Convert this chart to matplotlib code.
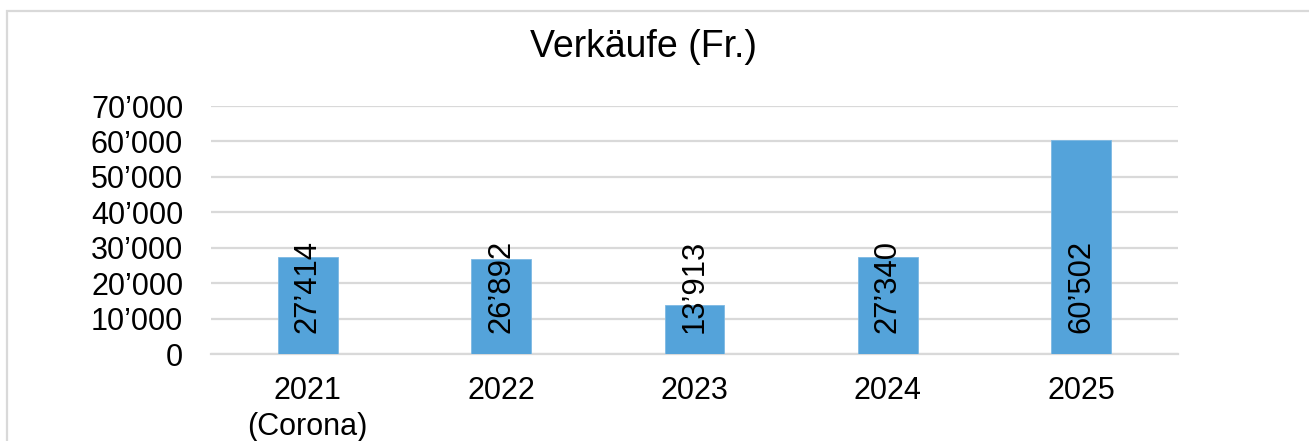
"""Bar chart of yearly sales (Fr.) with rotated value labels."""

import matplotlib

matplotlib.use("Agg")
import matplotlib.pyplot as plt
from matplotlib.patches import Rectangle
from matplotlib.ticker import FuncFormatter, MultipleLocator

years = ["2021\n(Corona)", "2022", "2023", "2024", "2025"]
sales = [27414, 26892, 13913, 27340, 60502]

_BAR_COLOUR = "#54A3DA"
_GRID_COLOUR = "#D9D9D9"
_TEXT_COLOUR = "#000000"
_FONT = "Liberation Sans"
_LABEL_BASE = 5900  # data labels all start at the same height


def swiss(v):
    # thousands separator as used in Switzerland: 27’414
    return f"{int(round(v)):,}".replace(",", "\u2019")


plt.rcParams["font.family"] = [_FONT, "DejaVu Sans"]

fig = plt.figure(figsize=(13.09, 4.41), dpi=100)
fig.patch.set_facecolor("white")

# chart frame (runs off the right and bottom edges)
fig.patches.append(Rectangle((7 / 1309, -0.05), 1.1, 1 - 11 / 441 + 0.05,
                             transform=fig.transFigure, fill=False,
                             edgecolor=_GRID_COLOUR, linewidth=1.6))

ax = fig.add_axes([211 / 1309, 1 - 354 / 441, (1178 - 211) / 1309, (354 - 106) / 441])
x = range(len(years))
ax.bar(x, sales, width=0.31, color=_BAR_COLOUR, edgecolor="#7DB9E3",
       linewidth=0.6, zorder=3)

for xi, v in zip(x, sales):
    ax.text(xi, _LABEL_BASE, swiss(v), rotation=90, ha="center", va="bottom",
            fontsize=22.3, color=_TEXT_COLOUR, zorder=4)

ax.set_xlim(-0.5, len(years) - 0.5)
ax.set_ylim(0, 70000)
ax.yaxis.set_major_locator(MultipleLocator(10000))
ax.yaxis.set_major_formatter(FuncFormatter(lambda v, _: swiss(v)))
ax.set_xticks(list(x))
ax.set_xticklabels(years, linespacing=1.25)
ax.tick_params(axis="both", length=0, labelsize=22, colors=_TEXT_COLOUR)
ax.tick_params(axis="y", pad=20)
ax.tick_params(axis="x", pad=16)
ax.grid(True, axis="y", color=_GRID_COLOUR, linewidth=1.6, zorder=0)
for side in ("top", "right", "left"):
    ax.spines[side].set_visible(False)
ax.spines["bottom"].set_color(_GRID_COLOUR)
ax.spines["bottom"].set_linewidth(1.6)

fig.text(643 / 1309, 1 - 47 / 441, "Verkäufe (Fr.)", ha="center", va="center",
         fontsize=27, color=_TEXT_COLOUR)

fig.savefig("out.png", dpi=100, facecolor=fig.get_facecolor())
plt.close(fig)
